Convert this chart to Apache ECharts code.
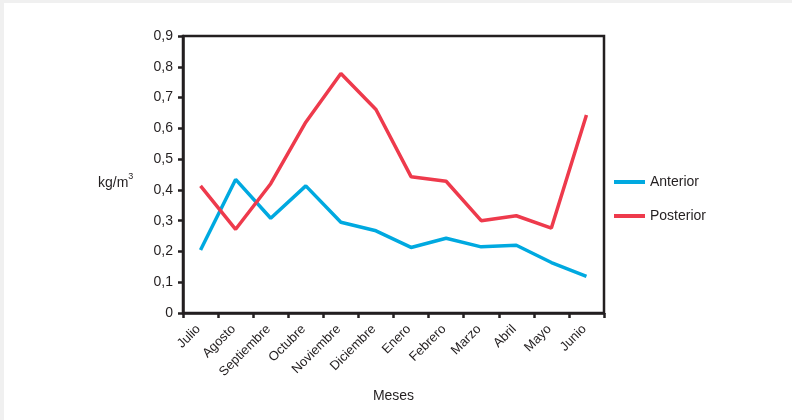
<!DOCTYPE html>
<html>
<head>
<meta charset="utf-8">
<script src="https://cdn.jsdelivr.net/npm/echarts@6/dist/echarts.min.js"></script>
<style>
html,body{margin:0;padding:0;background:#fff;}
#c{width:792px;height:420px;}
</style>
</head>
<body>
<div id="c"></div>
<script>
var months = ['Julio','Agosto','Septiembre','Octubre','Noviembre','Diciembre','Enero','Febrero','Marzo','Abril','Mayo','Junio'];
var anterior = [0.205,0.434,0.308,0.413,0.295,0.267,0.213,0.243,0.215,0.220,0.164,0.119];
var posterior = [0.413,0.272,0.420,0.620,0.778,0.661,0.443,0.428,0.300,0.316,0.276,0.643];
var yMin = 0, yMax = 0.9, yStep = 0.1;

var ink = '#231f20';
var font = 'Liberation Sans';
var chart = echarts.init(document.getElementById('c'), null, {renderer:'canvas'});
chart.setOption({
  animation:false,
  backgroundColor:'#fff',
  textStyle:{fontFamily:font},
  grid:{left:183,right:188,top:36,bottom:107,show:true,borderColor:ink,borderWidth:2.5,backgroundColor:'transparent'},
  legend:{
    orient:'vertical', left:609, top:169, itemWidth:31, itemHeight:4, itemGap:18,
    icon:'rect',
    textStyle:{fontSize:14,color:ink,fontFamily:font,lineHeight:16},
    data:['Anterior','Posterior']
  },
  graphic:[
    {type:'rect',left:0,top:0,shape:{width:792,height:3},style:{fill:'#f0f0f0'},silent:true},
    {type:'rect',left:0,top:0,shape:{width:4,height:420},style:{fill:'#f0f0f0'},silent:true},
    {type:'text',left:98,top:172,style:{
      text:'{a|kg/m}{s|3}',
      rich:{a:{fontSize:14,fill:ink,fontFamily:font,verticalAlign:'bottom',lineHeight:18},
            s:{fontSize:9,fill:ink,fontFamily:font,verticalAlign:'top',lineHeight:18,padding:[0,0,6,0]}}
    }}
  ],
  xAxis:{
    type:'category', data:months, boundaryGap:true,
    name:'Meses', nameLocation:'middle', nameGap:76,
    nameTextStyle:{fontSize:14,color:ink,fontFamily:font},
    axisLine:{lineStyle:{color:ink,width:2.5}},
    axisTick:{show:true,length:5,lineStyle:{color:ink,width:2.5},alignWithLabel:false},
    axisLabel:{rotate:45,fontSize:13,color:ink,margin:12,interval:0,fontFamily:font,padding:[0,3,0,0]},
    splitLine:{show:false}
  },
  yAxis:{
    type:'value', min:yMin, max:yMax, interval:yStep,
    axisLine:{show:true,lineStyle:{color:ink,width:2.5}},
    axisTick:{show:true,length:5,lineStyle:{color:ink,width:2.5}},
    axisLabel:{fontSize:14,color:ink,margin:10,fontFamily:font,
      formatter:function(v){return (Math.round(v*10)/10).toString().replace('.',',');}},
    splitLine:{show:false}
  },
  series:[
    {name:'Anterior',type:'line',data:anterior,symbol:'none',color:'#00a9e0',lineStyle:{width:3.5,color:'#00a9e0'}},
    {name:'Posterior',type:'line',data:posterior,symbol:'none',color:'#ee3a4c',lineStyle:{width:3.5,color:'#ee3a4c'}}
  ]
});
</script>
</body>
</html>
